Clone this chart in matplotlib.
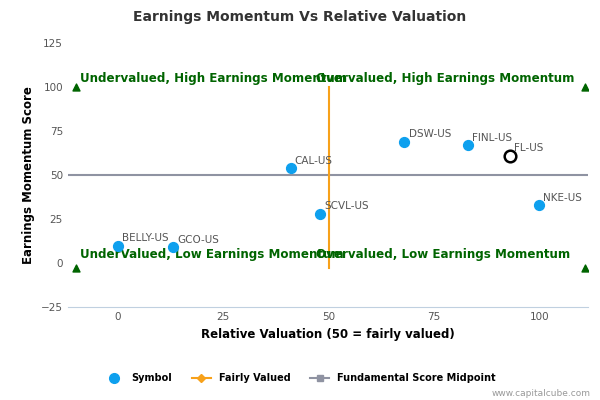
import matplotlib.pyplot as plt
from matplotlib.lines import Line2D

symbols = ["BELLY-US", "GCO-US", "CAL-US", "SCVL-US", "DSW-US", "FINL-US", "FL-US", "NKE-US"]
valuation = [0, 13, 41, 48, 68, 83, 93, 100]
momentum = [10, 9, 54, 28, 69, 67, 61, 33]
highlight = "FL-US"

corner_x = [-10, 111, -10, 111]
corner_y = [100, 100, -3, -3]
quad_labels = [("Undervalued, High Earnings Momentum", -9, 101),
               ("Overvalued, High Earnings Momentum", 47, 101),
               ("UnderValued, Low Earnings Momentum", -9, 1),
               ("Overvalued, Low Earnings Momentum", 47, 1)]

fig, ax = plt.subplots(figsize=(6, 4), dpi=100)
fig.subplots_adjust(left=0.113, right=0.98, top=0.893, bottom=0.232)

ax.axhline(50, color="#8f93a2", lw=1.5, zorder=1)
ax.plot([50, 50], [-3, 100], color="#f7a11a", lw=1.5, zorder=1)
ax.scatter(corner_x, corner_y, marker="^", color="#006400", s=25, zorder=3)

for s, x, y in zip(symbols, valuation, momentum):
    if s == highlight:
        ax.scatter(x, y, s=70, facecolor="white", edgecolor="black", lw=1.8, zorder=4)
    else:
        ax.scatter(x, y, s=50, color="#0ea0ee", zorder=4)
    ax.text(x + 1, y + 2.5, s, fontsize=7.5, color="#555555", zorder=5)

for t, x, y in quad_labels:
    ax.text(x, y, t, color="#006400", fontsize=8.6, fontweight="bold", va="bottom")

ax.set_xlim(-11.9, 111.6)
ax.set_ylim(-25, 125)
ax.set_xticks([0, 25, 50, 75, 100])
ax.set_yticks([-25, 0, 25, 50, 75, 100, 125])
ax.tick_params(labelsize=7.5, colors="#555555", length=0)
for side in ["top", "right", "left"]:
    ax.spines[side].set_visible(False)
ax.spines["bottom"].set_color("#c0d0e0")
ax.set_xlabel("Relative Valuation (50 = fairly valued)", fontsize=8.5, fontweight="bold")
ax.set_ylabel("Earnings Momentum Score", fontsize=8.5, fontweight="bold")
fig.suptitle("Earnings Momentum Vs Relative Valuation", fontsize=10, fontweight="bold",
             color="#333333", y=0.975)

handles = [Line2D([], [], marker="o", ls="", color="#0ea0ee", markersize=7),
           Line2D([], [], marker="D", color="#f7a11a", markersize=4),
           Line2D([], [], marker="s", color="#8f93a2", markersize=5)]
fig.legend(handles, ["Symbol", "Fairly Valued", "Fundamental Score Midpoint"],
           loc="lower center", bbox_to_anchor=(0.5, 0.02), ncol=3, frameon=False,
           prop={"size": 7, "weight": "bold"})
fig.text(0.985, 0.01, "www.capitalcube.com", ha="right", fontsize=6.5, color="#999999")

fig.savefig("out.png")
